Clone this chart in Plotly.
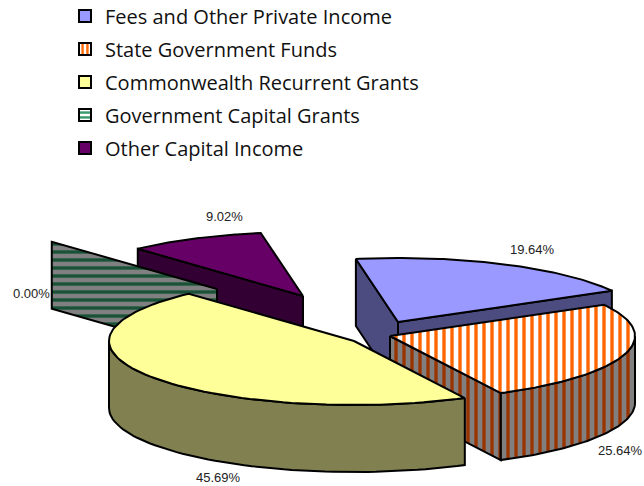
import numpy as np
import plotly.graph_objects as go

categories = ["Fees and Other Private Income", "State Government Funds",
              "Commonwealth Recurrent Grants", "Government Capital Grants",
              "Other Capital Income"]
shares = [19.64, 25.64, 45.69, 0.00, 9.02]

# Projection of the exploded 3-D pie onto the page (px)
RX, RY, DEPTH = 245, 64, 67
START = -9.9
APEX = [(398, 322), (390, 336), (354, 341), (217, 289), (303, 296)]
LABEL_POS = [(532, 249), (620, 450), (218, 477), (31, 293), (224, 216)]

TOP = [dict(bg="#9999FF", fg="#9999FF", shape=""), dict(bg="#FFFFFF", fg="#FF6600", shape="|"),
       dict(bg="#FFFF99", fg="#FFFF99", shape=""), dict(bg="#FFFFFF", fg="#339966", shape="-"),
       dict(bg="#660066", fg="#660066", shape="")]
SIDE = [dict(bg="#4C4C80", fg="#4C4C80", shape=""), dict(bg="#808080", fg="#993300", shape="|"),
        dict(bg="#808050", fg="#808050", shape=""), dict(bg="#808080", fg="#1A5237", shape="-"),
        dict(bg="#330033", fg="#330033", shape="")]


def patt(p):
    if not p["shape"]:
        return None
    return dict(shape=p["shape"], fgcolor=p["fg"], bgcolor=p["bg"], size=8, solidity=0.42, fillmode="replace")


def pt(apex, t, dz=0):
    r = np.radians(t)
    return apex[0] + RX * np.sin(r), apex[1] - RY * np.cos(r) + dz


def poly(xs, ys, style):
    tr = dict(x=list(xs), y=list(ys), mode="lines", fill="toself", showlegend=False, hoverinfo="skip",
              line=dict(color="black", width=2), fillcolor=style["bg"])
    p = patt(style)
    if p:
        tr["fillpattern"] = p
    return go.Scatter(**tr)


fig = go.Figure()

# legend swatches
for i, name in enumerate(categories):
    s = TOP[i]
    pattern = dict(shape=s["shape"], fgcolor=s["fg"], bgcolor=s["bg"], size=6, solidity=0.5, fillmode="replace")
    fig.add_trace(go.Bar(x=[None], y=[None], name=name, legendgroup=str(i),
                         marker=dict(color=s["bg"], line=dict(color="black", width=2), pattern=pattern)))


def wall(apex, t, style):
    a, b = pt(apex, t), pt(apex, t, DEPTH)
    return poly([apex[0], a[0], b[0], apex[0], apex[0]], [apex[1], a[1], b[1], apex[1] + DEPTH, apex[1]], style)


angles = START + np.cumsum([0] + shares) * 3.6
order = [4, 3, 0, 1, 2]  # back to front
for i in order:
    t0, t1 = angles[i], angles[i + 1]
    ap = APEX[i]
    if np.sin(np.radians(t0)) < 0:
        fig.add_trace(wall(ap, t0, SIDE[i]))
    if t1 > t0 and np.sin(np.radians(t1)) > 0:
        fig.add_trace(wall(ap, t1, SIDE[i]))
    a, b = max(t0, 90), min(t1, 270)
    if b > a:
        ts = np.linspace(a, b, 60)
        top = np.array([pt(ap, t) for t in ts])
        bot = np.array([pt(ap, t, DEPTH) for t in ts[::-1]])
        ring = np.vstack([top, bot, top[:1]])
        fig.add_trace(poly(ring[:, 0], ring[:, 1], SIDE[i]))
    if t1 > t0:
        ts = np.linspace(t0, t1, 80)
        arc = np.array([pt(ap, t) for t in ts])
        fig.add_trace(poly([ap[0], *arc[:, 0], ap[0]], [ap[1], *arc[:, 1], ap[1]], TOP[i]))

for v, (x, y) in zip(shares, LABEL_POS):
    fig.add_annotation(x=x, y=y, text=f"{v:.2f}%", showarrow=False,
                       font=dict(family="Liberation Sans", size=13, color="#222222"))

W, H = 644, 486
fig.update_layout(
    width=W, height=H, margin=dict(l=0, r=0, t=0, b=0, autoexpand=False),
    paper_bgcolor="white", plot_bgcolor="white",
    xaxis=dict(visible=False, range=[0, W], fixedrange=True),
    yaxis=dict(visible=False, range=[H, 0], fixedrange=True),
    legend=dict(x=65 / W, y=1 + 3.5 / H, xanchor="left", yanchor="top", tracegroupgap=4,
                bgcolor="rgba(0,0,0,0)", font=dict(family="Open Sans", size=20, color="#111111"),
                itemwidth=30),
)
fig.write_html("out.html", config={"displayModeBar": False},
               post_script="document.body.style.margin='0';")
